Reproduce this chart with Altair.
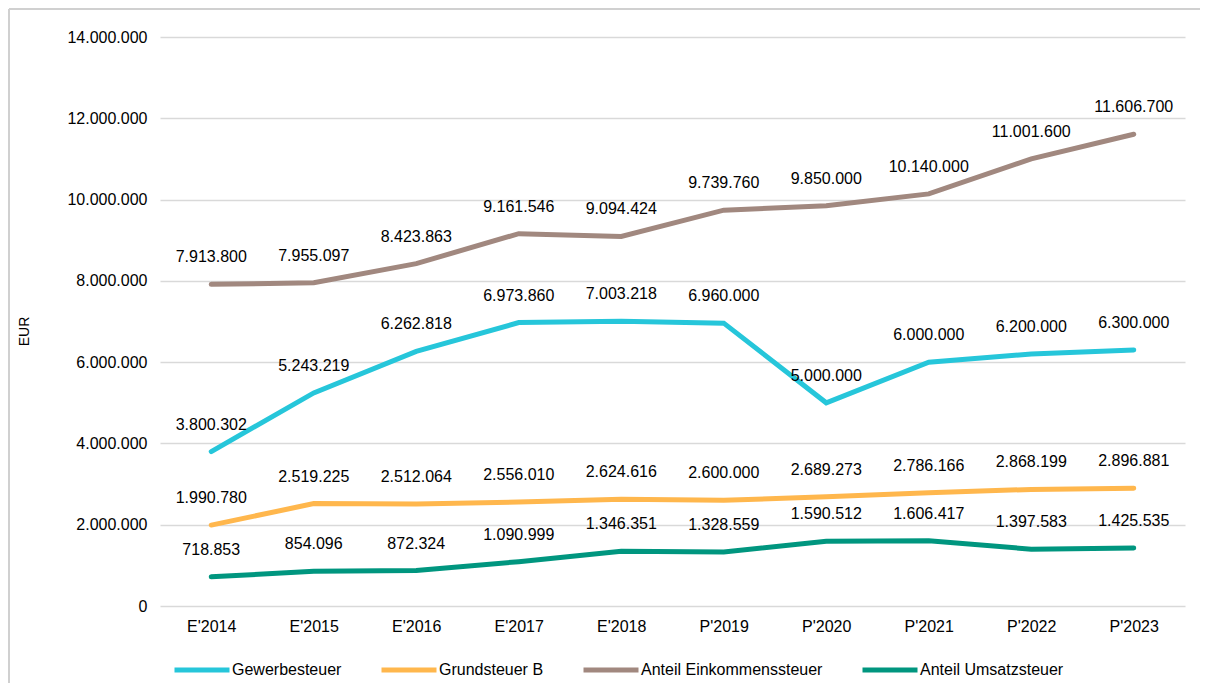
import altair as alt
import pandas as pd

years = ["E'2014", "E'2015", "E'2016", "E'2017", "E'2018",
         "P'2019", "P'2020", "P'2021", "P'2022", "P'2023"]
series_names = ["Gewerbesteuer", "Grundsteuer B", "Anteil Einkommenssteuer", "Anteil Umsatzsteuer"]
gewerbesteuer = [3800302, 5243219, 6262818, 6973860, 7003218, 6960000, 5000000, 6000000, 6200000, 6300000]
grundsteuer_b = [1990780, 2519225, 2512064, 2556010, 2624616, 2600000, 2689273, 2786166, 2868199, 2896881]
einkommensteuer = [7913800, 7955097, 8423863, 9161546, 9094424, 9739760, 9850000, 10140000, 11001600, 11606700]
umsatzsteuer = [718853, 854096, 872324, 1090999, 1346351, 1328559, 1590512, 1606417, 1397583, 1425535]
colors = ["#26C6DA", "#FFB74D", "#A1887F", "#00967F"]

rows = []
for name, vals in zip(series_names, [gewerbesteuer, grundsteuer_b, einkommensteuer, umsatzsteuer]):
    for y, v in zip(years, vals):
        rows.append({"Jahr": y, "Serie": name, "Wert": v})
df = pd.DataFrame(rows)

FONT = "Liberation Sans"

x_enc = alt.X("Jahr:N", sort=years,
              axis=alt.Axis(title=None, labelAngle=0, ticks=False, domain=False, grid=False,
                            labelPadding=12, labelFontSize=16, labelColor="#000000", labelFont=FONT))
y_enc = alt.Y("Wert:Q", scale=alt.Scale(domain=[0, 14000000]),
              axis=alt.Axis(values=[0, 2000000, 4000000, 6000000, 8000000, 10000000, 12000000, 14000000],
                            format=",.0f", title="EUR", titleAngle=-90, titleX=-136, titleY=294,
                            titleAlign="center", titleBaseline="middle", titleFontSize=14,
                            titleFontWeight="normal", titleFont=FONT, titleColor="#000000",
                            ticks=False, domain=False, labelPadding=13, labelFontSize=16,
                            labelColor="#000000", labelFont=FONT,
                            gridColor="#D9D9D9", gridWidth=1.5))
color_enc = alt.Color("Serie:N", scale=alt.Scale(domain=series_names, range=colors),
                      legend=alt.Legend(title=None, orient="none", direction="horizontal",
                                        legendX=12, legendY=603, symbolType="stroke",
                                        symbolSize=3025, symbolStrokeWidth=5,
                                        labelFontSize=16, labelFont=FONT, labelColor="#000000",
                                        labelOffset=0, labelLimit=400, columnPadding=29, padding=0))

lines = alt.Chart(df).mark_line(strokeWidth=5, strokeCap="round").encode(
    x=x_enc, y=y_enc, color=color_enc, detail="Serie:N")

labels = alt.Chart(df).mark_text(dy=-27, fontSize=16, font=FONT, color="#000000").encode(
    x=alt.X("Jahr:N", sort=years), y="Wert:Q", text=alt.Text("Wert:Q", format=",.0f"))

one = pd.DataFrame({"a": [0]})
frame_top = alt.Chart(one).mark_rule(stroke="#D0D0D0", strokeWidth=2).encode(
    x=alt.value(-151), x2=alt.value(1040), y=alt.value(-28))
frame_left = alt.Chart(one).mark_rule(stroke="#D0D0D0", strokeWidth=2).encode(
    x=alt.value(-151), y=alt.value(-28), y2=alt.value(646))

chart = alt.layer(frame_top, frame_left, lines, labels).properties(
    width=1025, height=569,
    autosize=alt.AutoSizeParams(type="none"),
    padding={"left": 152, "top": 29, "right": 15, "bottom": 77},
).configure(
    locale={"number": {"decimal": ",", "thousands": ".", "grouping": [3], "currency": ["", " €"]}}
).configure_view(stroke=None)

chart.save("out.html", embed_options={"renderer": "svg", "actions": False})
